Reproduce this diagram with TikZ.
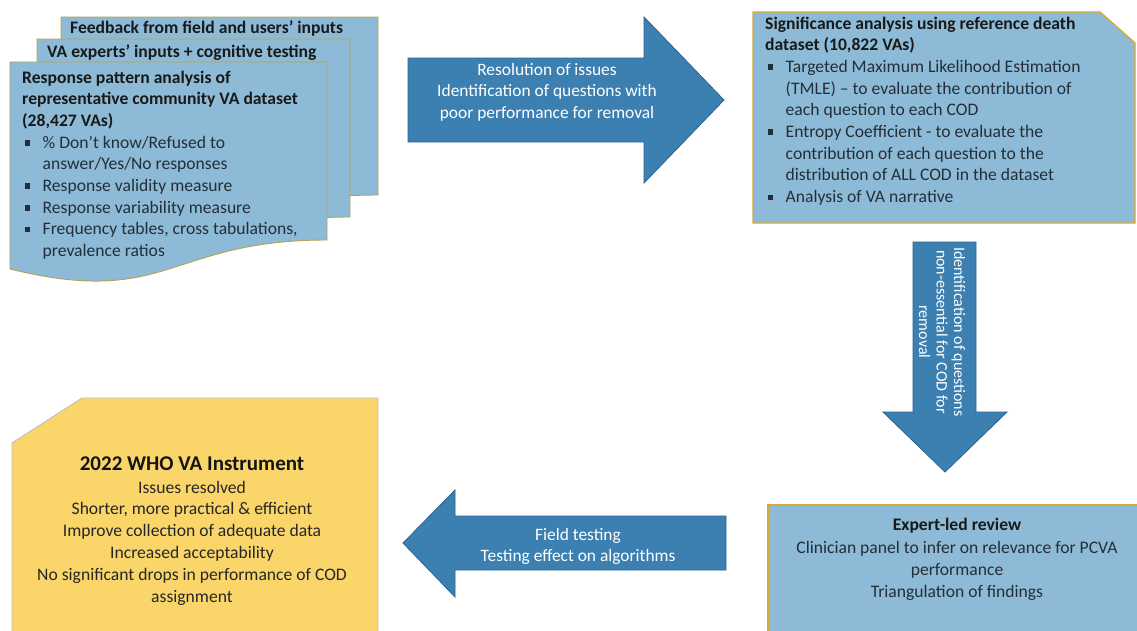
\documentclass[tikz,border=0pt]{standalone}
\usepackage{fontspec}
\setmainfont{Carlito}
\definecolor{boxblue}{RGB}{141,187,215}
\definecolor{arrowblue}{RGB}{60,128,177}
\definecolor{arrowedge}{RGB}{44,98,142}
\definecolor{goldedge}{RGB}{214,170,52}
\definecolor{oliveedge}{RGB}{178,162,84}
\definecolor{yel}{RGB}{250,214,106}
\definecolor{yeledge}{RGB}{190,190,190}
\definecolor{txt}{RGB}{36,46,56}
\newcommand{\bsq}{\makebox[20.5pt][l]{\hspace{2.5pt}\raisebox{2.6pt}{\rule{5.5pt}{5.5pt}}}}
\newcommand{\bind}{\hspace*{20.5pt}}
\newcommand{\docshape}[4]{%
  \draw[#1] (#2,#3) -- ({#2+#4},#3) -- ({#2+#4},{#3+178})
    .. controls ({#2+#4/2},{#3+178}) and ({#2+#4/2},{#3+246}) .. (#2,{#3+207}) -- cycle;}
\tikzset{
  docbox/.style={fill=boxblue, draw=oliveedge, line width=0.9pt},
  sigbox/.style={fill=boxblue, draw=goldedge, line width=1.4pt},
  yelbox/.style={fill=yel, draw=yeledge, line width=0.9pt},
  blockarrow/.style={fill=arrowblue, draw=arrowedge, line width=0.8pt},
  bodytext/.style={inner sep=0pt, text=txt, font=\fontsize{17.6}{21.7}\selectfont},
  arrowtext/.style={inner sep=0pt, text=white, align=center, font=\fontsize{17.4}{21.5}\selectfont},
}
\begin{document}
\begin{tikzpicture}[x=1pt,y=-1pt]
\clip (0,0) rectangle (1137,630);
\fill[white] (0,0) rectangle (1137,630);

% document stack
\docshape{docbox}{61}{17}{317}
\docshape{docbox}{37}{39}{313}
\docshape{docbox}{10}{62}{317}
\node[bodytext, anchor=base west, font=\fontsize{17.6}{21.7}\selectfont\bfseries, text=black!90] (fb) at (70,33) {Feedback from field and users’ inputs};
\node[bodytext, anchor=base west, font=\fontsize{17.6}{21.7}\selectfont\bfseries, text=black!90] (ve) at (47,57) {VA experts’ inputs + cognitive testing};
% anchor base = baseline of last line
\node[bodytext, anchor=base west, align=left] (rp) at (22,256.6) {%
  {\color{black!90}\bfseries Response pattern analysis of}\\
  {\color{black!90}\bfseries representative community VA dataset}\\
  {\color{black!90}\bfseries (28,427 VAs)}\\
  \bsq\% Don’t know/Refused to\\
  \bind answer/Yes/No responses\\
  \bsq Response validity measure\\
  \bsq Response variability measure\\
  \bsq Frequency tables, cross tabulations,\\
  \bind prevalence ratios};

% significance box
\draw[sigbox] (753,12) -- (1100,12) -- (1135,43) -- (1135,223) -- (753,223) -- cycle;
\node[bodytext, anchor=base west, align=left] (sa) at (765,202.6) {%
  {\color{black!90}\bfseries Significance analysis using reference death}\\
  {\color{black!90}\bfseries dataset (10,822 VAs)}\\
  \bsq Targeted Maximum Likelihood Estimation\\
  \bind (TMLE) – to evaluate the contribution of\\
  \bind each question to each COD\\
  \bsq Entropy Coefficient - to evaluate the\\
  \bind contribution of each question to the\\
  \bind distribution of ALL COD in the dataset\\
  \bsq Analysis of VA narrative};

% right arrow
\draw[blockarrow] (408,58) -- (644,58) -- (644,17) -- (724,100) -- (644,183) -- (644,142) -- (408,142) -- cycle;
\node[arrowtext, anchor=base] (ra) at (547,118) {Resolution of issues\\Identification of questions with\\poor performance for removal};

% down arrow
\draw[blockarrow] (913,242) -- (976,242) -- (976,412) -- (1007,412) -- (945,472) -- (883,412) -- (913,412) -- cycle;
\node[arrowtext, rotate=-90, font=\fontsize{16}{17.5}\selectfont] (da) at (942,332) {Identification of questions\\non-essential for COD for\\removal};

% expert-led box
\draw[sigbox] (768,505) rectangle (1142,636);
\node[bodytext, anchor=base, font=\fontsize{17.6}{21.7}\selectfont\bfseries, text=black!90] (et) at (957,530) {Expert-led review};
\node[bodytext, anchor=base, align=center, font=\fontsize{17.6}{22}\selectfont] (eb) at (957,597) {Clinician panel to infer on relevance for PCVA\\performance\\Triangulation of findings};

% left arrow
\draw[blockarrow] (726,516) -- (455,516) -- (455,490) -- (403,543) -- (455,597) -- (455,570) -- (726,570) -- cycle;
\node[arrowtext, anchor=base] (la) at (578,561.5) {Field testing\\Testing effect on algorithms};

% yellow box
\draw[yelbox] (82,398) -- (378,398) -- (378,636) -- (12,636) -- (12,443) -- cycle;
\node[inner sep=0pt, anchor=base, font=\fontsize{21}{24}\selectfont\bfseries, text=black!92] (yt) at (192,470) {2022 WHO VA Instrument};
\node[inner sep=0pt, anchor=base, align=center, text=black!85, font=\fontsize{17.6}{21.8}\selectfont] (yb) at (192,602) {Issues resolved\\Shorter, more practical \& efficient\\Improve collection of adequate data\\Increased acceptability\\No significant drops in performance of COD\\assignment};
\end{tikzpicture}
\end{document}
